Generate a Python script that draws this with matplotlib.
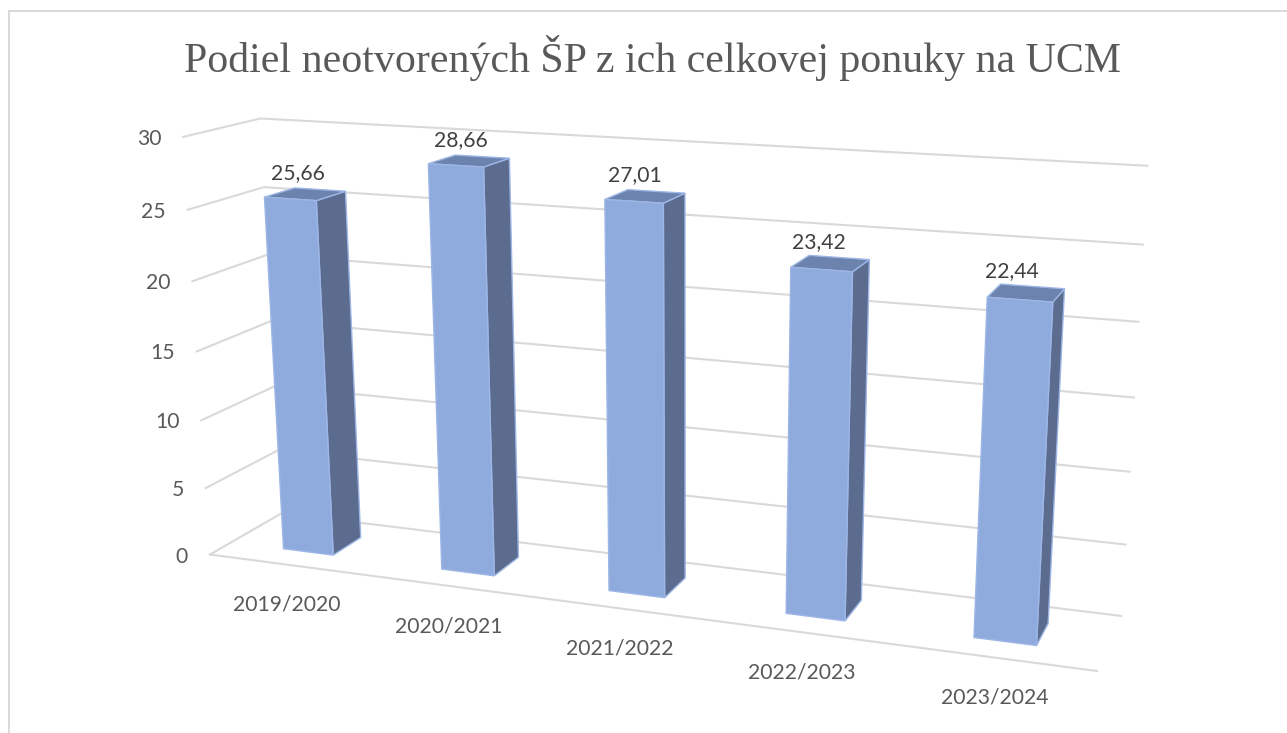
import numpy as np
import matplotlib
matplotlib.use("Agg")
import matplotlib.pyplot as plt
from matplotlib.patches import Polygon

title = "Podiel neotvorených ŠP z ich celkovej ponuky na UCM"
years = ["2019/2020", "2020/2021", "2021/2022", "2022/2023", "2023/2024"]
values = [25.66, 28.66, 27.01, 23.42, 22.44]
value_labels = ["25,66", "28,66", "27,01", "23,42", "22,44"]
y_ticks = [0, 5, 10, 15, 20, 25, 30]

# camera of the 3D chart: (category, value, depth) -> pixel, fitted on the wall corners
calib_3d = [(0, 0, 0), (0, 30, 0), (0, 25, 0), (0, 0, 1), (0, 30, 1), (0, 25, 1),
            (5, 30, 1), (5, 25, 1), (5, 20, 1), (5, 0, 1), (5, 0, 0)]
calib_px = [(209, 556), (184, 138), (188, 208), (283, 512), (260, 119), (263, 187),
            (1148, 166), (1143, 244), (1138, 322), (1121, 617), (1097, 670)]

rows, rhs = [], []
for (X, Y, Z), (u, v) in zip(calib_3d, calib_px):
    rows.append([X, Y, Z, 1, 0, 0, 0, 0, -u * X, -u * Y, -u * Z])
    rhs.append(u)
    rows.append([0, 0, 0, 0, X, Y, Z, 1, -v * X, -v * Y, -v * Z])
    rhs.append(v)
cam = np.append(np.linalg.lstsq(np.array(rows, float), np.array(rhs, float), rcond=None)[0], 1).reshape(3, 4)


def project(x, y, z):
    p = cam @ np.array([x, y, z, 1.0])
    return p[0] / p[2], p[1] / p[2]


fig = plt.figure(figsize=(12.87, 7.33), dpi=100)
ax = fig.add_axes([0, 0, 1, 1])
ax.set_xlim(0, 1287)
ax.set_ylim(733, 0)
ax.axis("off")

# outer chart border
ax.plot([9, 9, 1287], [733, 11, 11], color="#D9D9D9", lw=1.4)

ax.text(653, 58, title, family="Liberation Serif", fontsize=30.2, color="#595959", ha="center", va="center")

grid = "#D9D9D9"
for t in y_ticks:
    a, b, c = project(0, t, 0), project(0, t, 1), project(5, t, 1)
    ax.plot([a[0], b[0], c[0]], [a[1], b[1], c[1]], color=grid, lw=1.5, zorder=1)
    ax.text(a[0] - 22, a[1] + 2, str(t), family="Lato", fontsize=15.2, color="#595959", ha="right", va="center")
a, b = project(0, 0, 0), project(5, 0, 0)
ax.plot([a[0], b[0]], [a[1], b[1]], color=grid, lw=1.5, zorder=1)

bar_w = 0.32
z0, z1 = 0.29, 0.70
for i, val in enumerate(values):
    x0, x1 = i + 0.5 - bar_w / 2, i + 0.5 + bar_w / 2
    front = [project(x0, 0, z0), project(x1, 0, z0), project(x1, val, z0), project(x0, val, z0)]
    side = [project(x1, 0, z0), project(x1, 0, z1), project(x1, val, z1), project(x1, val, z0)]
    top = [project(x0, val, z0), project(x1, val, z0), project(x1, val, z1), project(x0, val, z1)]
    for pts, col in [(side, "#5B6C8F"), (top, "#6C83AD"), (front, "#8FAADC")]:
        ax.add_patch(Polygon(pts, closed=True, facecolor=col, edgecolor="#9DB6E6", lw=1, zorder=3))
    cx, cy = project(i + 0.5, val, 0.66)
    ax.text(cx - 19, cy - 17, value_labels[i], family="Lato", fontsize=15.2, color="#404040",
            ha="center", va="center", zorder=4)
    bx, by = project(i + 0.5, 0, 0)
    ax.text(bx - 1, by + 40, years[i], family="Lato", fontsize=15.2, color="#595959", ha="center", va="center")

fig.savefig("out.png", dpi=100)
